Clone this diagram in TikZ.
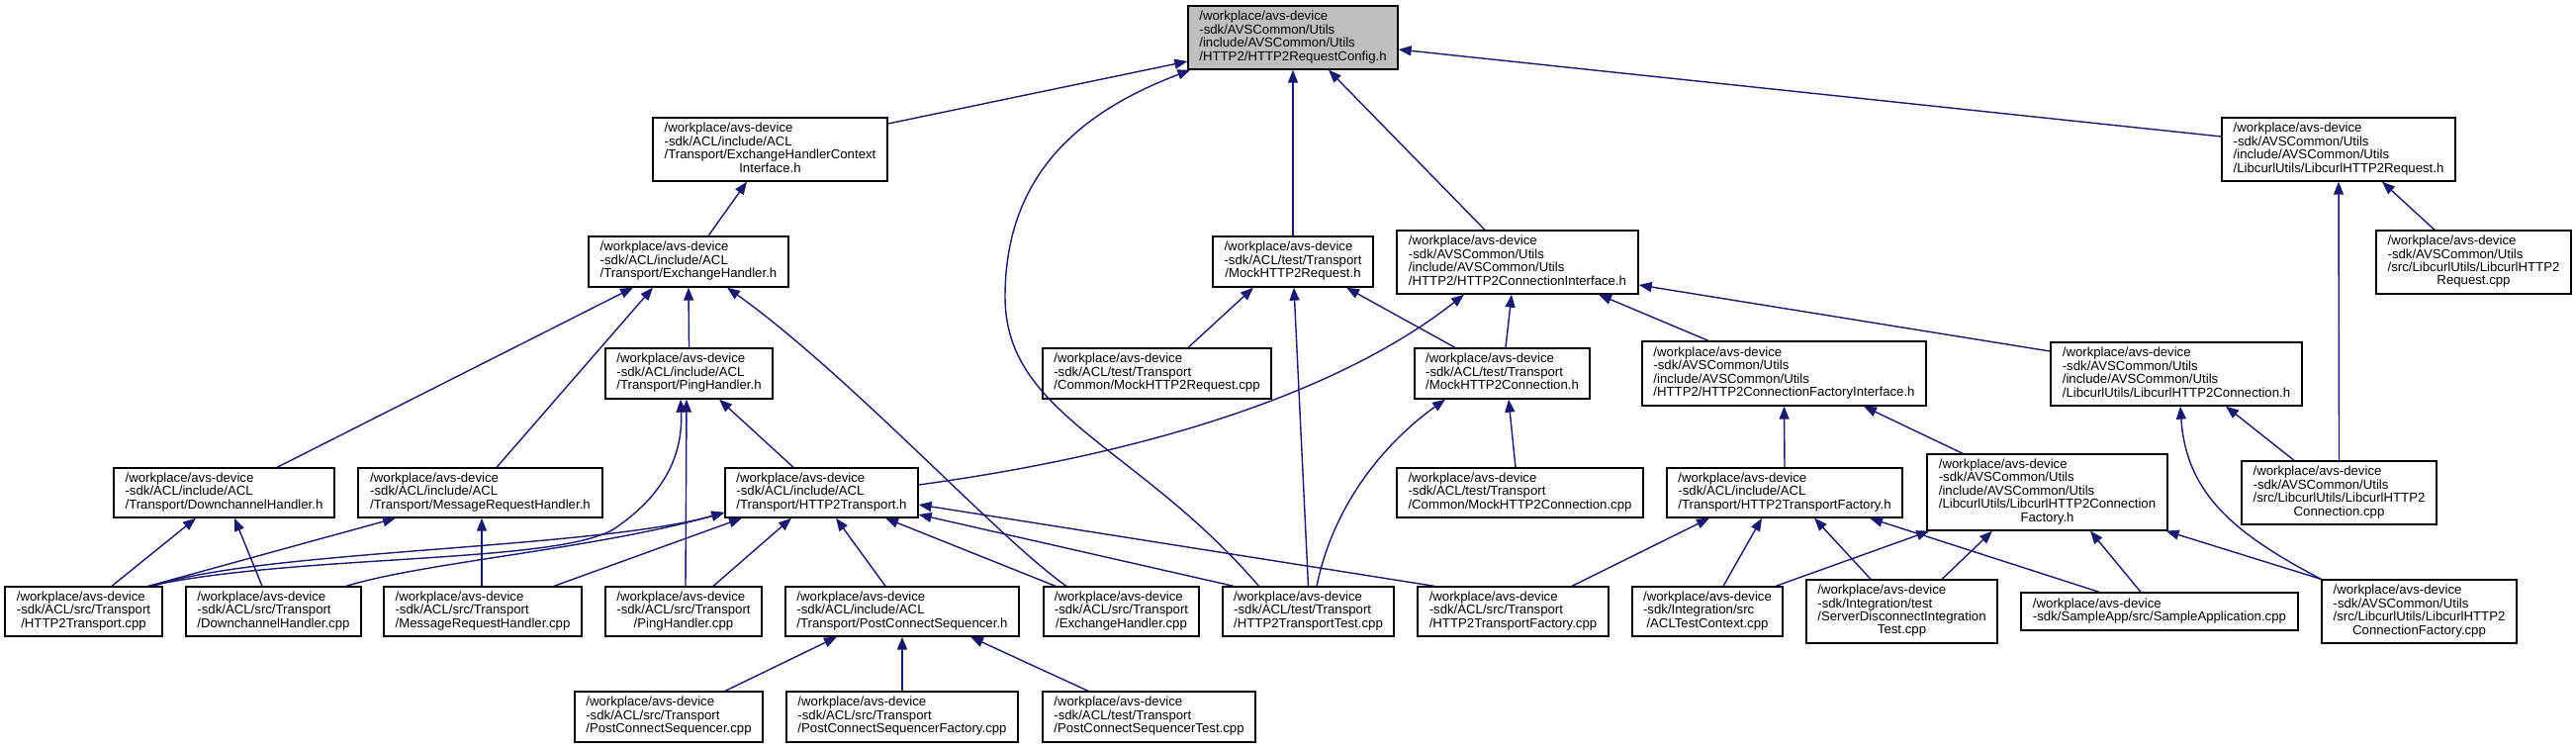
\documentclass[tikz,border=0pt]{standalone}
\usepackage{fontspec}
\setmainfont{Liberation Sans}
\usetikzlibrary{arrows.meta}
\definecolor{edgecol}{RGB}{25,25,112}
\definecolor{rootfill}{RGB}{191,191,191}
\newcommand\lastline[1]{\multicolumn{1}{@{}c@{}}{#1}}
\newcommand\lbl[1]{\begin{tabular}{@{}l@{}}#1\end{tabular}}
\begin{document}
\begin{tikzpicture}[x=1pt,y=-1pt,
  box/.style={draw=black,line width=1.3pt,fill=white,inner sep=0pt,font=\fontsize{13.2}{13}\selectfont},
  edge/.style={draw=edgecol,line width=1.4pt,-{Triangle[length=13pt,width=10pt]}}]
\fill[white] (0,0) rectangle (2604,756);
\useasboundingbox (0,0) rectangle (2604,756);
% nodes
\node[box,fill=rootfill,minimum width=212,minimum height=64] (root) at (1307,38) {\lbl{/workplace/avs-device\\-sdk/AVSCommon/Utils\\/include/AVSCommon/Utils\\\lastline{/HTTP2/HTTP2RequestConfig.h}}};
\node[box,minimum width=237,minimum height=64] (ehci) at (778.5,151) {\lbl{/workplace/avs-device\\-sdk/ACL/include/ACL\\/Transport/ExchangeHandlerContext\\\lastline{Interface.h}}};
\node[box,minimum width=202,minimum height=51] (eh) at (696,264.5) {\lbl{/workplace/avs-device\\-sdk/ACL/include/ACL\\\lastline{/Transport/ExchangeHandler.h}}};
\node[box,minimum width=162,minimum height=51] (mockreq) at (1307,264.5) {\lbl{/workplace/avs-device\\-sdk/ACL/test/Transport\\\lastline{/MockHTTP2Request.h}}};
\node[box,minimum width=244,minimum height=64] (conniface) at (1534,265) {\lbl{/workplace/avs-device\\-sdk/AVSCommon/Utils\\/include/AVSCommon/Utils\\\lastline{/HTTP2/HTTP2ConnectionInterface.h}}};
\node[box,minimum width=236,minimum height=64] (lreq) at (2364,151) {\lbl{/workplace/avs-device\\-sdk/AVSCommon/Utils\\/include/AVSCommon/Utils\\\lastline{/LibcurlUtils/LibcurlHTTP2Request.h}}};
\node[box,minimum width=197,minimum height=64] (lreqcpp) at (2500.5,265) {\lbl{/workplace/avs-device\\-sdk/AVSCommon/Utils\\/src/LibcurlUtils/LibcurlHTTP2\\\lastline{Request.cpp}}};
\node[box,minimum width=169,minimum height=51] (ph) at (696.5,377.5) {\lbl{/workplace/avs-device\\-sdk/ACL/include/ACL\\\lastline{/Transport/PingHandler.h}}};
\node[box,minimum width=231,minimum height=51] (mockreqcpp) at (1169.5,377.5) {\lbl{/workplace/avs-device\\-sdk/ACL/test/Transport\\\lastline{/Common/MockHTTP2Request.cpp}}};
\node[box,minimum width=177,minimum height=51] (mockconn) at (1518.5,377.5) {\lbl{/workplace/avs-device\\-sdk/ACL/test/Transport\\\lastline{/MockHTTP2Connection.h}}};
\node[box,minimum width=287,minimum height=65] (factiface) at (1803.5,377.5) {\lbl{/workplace/avs-device\\-sdk/AVSCommon/Utils\\/include/AVSCommon/Utils\\\lastline{/HTTP2/HTTP2ConnectionFactoryInterface.h}}};
\node[box,minimum width=254,minimum height=64] (lconn) at (2200,378) {\lbl{/workplace/avs-device\\-sdk/AVSCommon/Utils\\/include/AVSCommon/Utils\\\lastline{/LibcurlUtils/LibcurlHTTP2Connection.h}}};
\node[box,minimum width=223,minimum height=50] (dch) at (226.5,498) {\lbl{/workplace/avs-device\\-sdk/ACL/include/ACL\\\lastline{/Transport/DownchannelHandler.h}}};
\node[box,minimum width=247,minimum height=50] (mrh) at (485.5,498) {\lbl{/workplace/avs-device\\-sdk/ACL/include/ACL\\\lastline{/Transport/MessageRequestHandler.h}}};
\node[box,minimum width=195,minimum height=50] (h2t) at (830.5,498) {\lbl{/workplace/avs-device\\-sdk/ACL/include/ACL\\\lastline{/Transport/HTTP2Transport.h}}};
\node[box,minimum width=249,minimum height=50] (mockconncpp) at (1536.5,498) {\lbl{/workplace/avs-device\\-sdk/ACL/test/Transport\\\lastline{/Common/MockHTTP2Connection.cpp}}};
\node[box,minimum width=238,minimum height=50] (h2tf) at (1804,498) {\lbl{/workplace/avs-device\\-sdk/ACL/include/ACL\\\lastline{/Transport/HTTP2TransportFactory.h}}};
\node[box,minimum width=243,minimum height=77] (lconnfact) at (2069.5,497.5) {\lbl{/workplace/avs-device\\-sdk/AVSCommon/Utils\\/include/AVSCommon/Utils\\/LibcurlUtils/LibcurlHTTP2Connection\\\lastline{Factory.h}}};
\node[box,minimum width=197,minimum height=64] (lconncpp) at (2364.5,498) {\lbl{/workplace/avs-device\\-sdk/AVSCommon/Utils\\/src/LibcurlUtils/LibcurlHTTP2\\\lastline{Connection.cpp}}};
\node[box,minimum width=159,minimum height=50] (h2tcpp) at (84.5,618) {\lbl{/workplace/avs-device\\-sdk/ACL/src/Transport\\\lastline{/HTTP2Transport.cpp}}};
\node[box,minimum width=177,minimum height=50] (dchcpp) at (276.5,618) {\lbl{/workplace/avs-device\\-sdk/ACL/src/Transport\\\lastline{/DownchannelHandler.cpp}}};
\node[box,minimum width=200,minimum height=50] (mrhcpp) at (488,618) {\lbl{/workplace/avs-device\\-sdk/ACL/src/Transport\\\lastline{/MessageRequestHandler.cpp}}};
\node[box,minimum width=158,minimum height=50] (phcpp) at (691,618) {\lbl{/workplace/avs-device\\-sdk/ACL/src/Transport\\\lastline{/PingHandler.cpp}}};
\node[box,minimum width=236,minimum height=50] (pcsh) at (912,618) {\lbl{/workplace/avs-device\\-sdk/ACL/include/ACL\\\lastline{/Transport/PostConnectSequencer.h}}};
\node[box,minimum width=157,minimum height=50] (ehcpp) at (1133.5,618) {\lbl{/workplace/avs-device\\-sdk/ACL/src/Transport\\\lastline{/ExchangeHandler.cpp}}};
\node[box,minimum width=173,minimum height=50] (h2ttest) at (1322.5,618) {\lbl{/workplace/avs-device\\-sdk/ACL/test/Transport\\\lastline{/HTTP2TransportTest.cpp}}};
\node[box,minimum width=193,minimum height=50] (h2tfcpp) at (1529.5,618) {\lbl{/workplace/avs-device\\-sdk/ACL/src/Transport\\\lastline{/HTTP2TransportFactory.cpp}}};
\node[box,minimum width=152,minimum height=50] (acltc) at (1726,618) {\lbl{/workplace/avs-device\\-sdk/Integration/src\\\lastline{/ACLTestContext.cpp}}};
\node[box,minimum width=193,minimum height=64] (sdit) at (1922.5,618) {\lbl{/workplace/avs-device\\-sdk/Integration/test\\/ServerDisconnectIntegration\\\lastline{Test.cpp}}};
\node[box,minimum width=280,minimum height=38] (sampleapp) at (2183,618) {\lbl{/workplace/avs-device\\\lastline{-sdk/SampleApp/src/SampleApplication.cpp}}};
\node[box,minimum width=197,minimum height=64] (lconnfactcpp) at (2445.5,618) {\lbl{/workplace/avs-device\\-sdk/AVSCommon/Utils\\/src/LibcurlUtils/LibcurlHTTP2\\\lastline{ConnectionFactory.cpp}}};
\node[box,minimum width=190,minimum height=51] (pcscpp) at (676,724.5) {\lbl{/workplace/avs-device\\-sdk/ACL/src/Transport\\\lastline{/PostConnectSequencer.cpp}}};
\node[box,minimum width=234,minimum height=51] (pcsfcpp) at (912,724.5) {\lbl{/workplace/avs-device\\-sdk/ACL/src/Transport\\\lastline{/PostConnectSequencerFactory.cpp}}};
\node[box,minimum width=215,minimum height=51] (pcstest) at (1161.5,724.5) {\lbl{/workplace/avs-device\\-sdk/ACL/test/Transport\\\lastline{/PostConnectSequencerTest.cpp}}};
% edges (tail = including file, tip = included file)
\draw[edge] ([yshift=26]ehci.east) -- ([yshift=-24]root.west);
\draw[edge] ([xshift=-50]h2ttest.north) .. controls (1150,450) and (1016,420) .. (1016,300) .. controls (1016,170) and (1100,110) .. ([xshift=3]root.south west);
\draw[edge] (mockreq.north) -- (root.south);
\draw[edge] ([xshift=-33]conniface.north) -- ([xshift=36]root.south);
\draw[edge] ([yshift=13]lreq.west) -- ([yshift=-12]root.east);
\draw[edge] ([xshift=20]eh.north) -- ([xshift=-23.5]ehci.south);
\draw[edge] ([xshift=53.5]dch.north) -- ([xshift=-56]eh.south);
\draw[edge] ([xshift=16.5]mrh.north) -- ([xshift=-36]eh.south);
\draw[edge] (ph.north) -- (eh.south);
\draw[edge] ([xshift=-55.5]ehcpp.north) .. controls (1010,545) and (860,380) .. ([xshift=39]eh.south);
\draw[edge] ([xshift=-28.5]h2t.north) -- ([xshift=30.5]ph.south);
\draw[edge] ([xshift=66]h2tcpp.north) .. controls (300,560) and (560,570) .. (620,535) .. controls (680,495) and (690,450) .. ([xshift=-8.5]ph.south);
\draw[edge] ([xshift=2]phcpp.north) -- ([xshift=-2.5]ph.south);
\draw[edge] ([xshift=28.5]h2tcpp.north) -- ([xshift=-28.5]dch.south);
\draw[edge] ([xshift=-11.5]dchcpp.north) -- ([xshift=10.5]dch.south);
\draw[edge] ([xshift=65.5]h2tcpp.north) -- ([xshift=-85.5]mrh.south);
\draw[edge] ([xshift=-1]mrhcpp.north) -- ([xshift=1.5]mrh.south);
\draw[edge] ([xshift=70.5]h2tcpp.north) .. controls (260,556) and (600,555) .. ([yshift=-20]h2t.west);
\draw[edge] ([xshift=73.5]dchcpp.north) .. controls (430,568) and (600,555) .. ([yshift=-20]h2t.west);
\draw[edge] ([xshift=72]mrhcpp.north) -- ([xshift=-80.5]h2t.south);
\draw[edge] ([xshift=30]phcpp.north) -- ([xshift=-30.5]h2t.south);
\draw[edge] ([xshift=-17]pcsh.north) -- ([xshift=14.5]h2t.south);
\draw[edge] ([xshift=-66.5]ehcpp.north) -- ([xshift=64.5]h2t.south);
\draw[edge] ([xshift=-75.5]h2ttest.north) -- ([yshift=-22]h2t.east);
\draw[edge] ([xshift=-79.5]h2tfcpp.north) -- ([yshift=-12]h2t.east);
\draw[edge] ([yshift=8]h2t.east) .. controls (1150,460) and (1350,400) .. ([xshift=-54]conniface.south);
\draw[edge] ([xshift=31.5]mockreqcpp.north) -- ([xshift=-40]mockreq.south);
\draw[edge] (h2ttest.north) -- ([xshift=1]mockreq.south);
\draw[edge] ([xshift=-47.5]mockconn.north) -- ([xshift=54]mockreq.south);
\draw[edge] ([xshift=3.5]mockconn.north) -- ([xshift=-6]conniface.south);
\draw[edge] ([xshift=-76.5]factiface.north) -- ([xshift=82]conniface.south);
\draw[edge] ([yshift=23]lconn.west) -- ([yshift=-23]conniface.east);
\draw[edge] ([xshift=8.5]h2ttest.north) .. controls (1350,500) and (1410,440) .. ([xshift=-57.5]mockconn.south);
\draw[edge] ([xshift=-4.5]mockconncpp.north) -- ([xshift=6.5]mockconn.south);
\draw[edge] ([xshift=59.5]h2tfcpp.north) -- ([xshift=-76]h2tf.south);
\draw[edge] (h2tf.north) -- (factiface.south);
\draw[edge] ([xshift=-85.5]lconnfact.north) -- ([xshift=80.5]factiface.south);
\draw[edge] ([xshift=16]acltc.north) -- ([xshift=-23]h2tf.south);
\draw[edge] ([xshift=-31.5]sdit.north) -- ([xshift=30]h2tf.south);
\draw[edge] ([xshift=-61]sampleapp.north) -- ([xshift=86]h2tf.south);
\draw[edge] ([xshift=69]acltc.north) -- ([xshift=3]lconnfact.south west);
\draw[edge] ([xshift=40.5]sdit.north) -- ([xshift=-55.5]lconnfact.south);
\draw[edge] ([xshift=-19]sampleapp.north) -- ([xshift=43.5]lconnfact.south);
\draw[edge] (lconnfactcpp.north west) -- ([xshift=-2]lconnfact.south east);
\draw[edge] (lconnfactcpp.north west) .. controls (2260,540) and (2210,500) .. ([xshift=4]lconn.south);
\draw[edge] ([xshift=-45.5]lconncpp.north) -- ([xshift=50]lconn.south);
\draw[edge] (lconncpp.north) -- (lreq.south);
\draw[edge] ([xshift=-39.5]lreqcpp.north) -- ([xshift=44]lreq.south);
\draw[edge] ([xshift=57]pcscpp.north) -- ([xshift=-66]pcsh.south);
\draw[edge] (pcsfcpp.north) -- (pcsh.south);
\draw[edge] ([xshift=-61.5]pcstest.north) -- ([xshift=69]pcsh.south);
\end{tikzpicture}
\end{document}
